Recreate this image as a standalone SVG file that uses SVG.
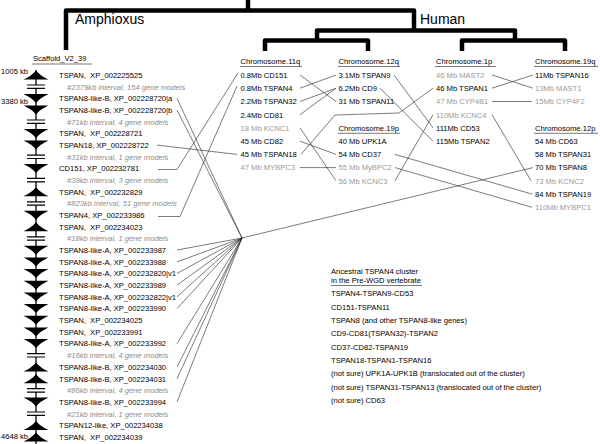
<svg xmlns="http://www.w3.org/2000/svg" width="600" height="444" viewBox="0 0 600 444">
<style>
text{font-family:"Liberation Sans",Arial,sans-serif;font-size:7.6px;fill:#000;white-space:pre}
.big{font-size:14px}
.iv{fill:#8c8c8c;font-style:italic}
.g{fill:#9a9a9a}
.tree{fill:none;stroke:#000;stroke-width:4.5;stroke-linejoin:round}
.ul{stroke:#555;stroke-width:0.8}
.cn{fill:none;stroke:#222;stroke-width:0.6}
.chr{stroke:#000;stroke-width:1.3}
</style>
<defs>
<path id="dn" d="M-12.5,-4.5 L12.5,-4.5 Q4.5,-1 0,4.5 Q-4.5,-1 -12.5,-4.5 Z" fill="#000"/>
<path id="up" d="M-12.5,4.5 L12.5,4.5 Q4.5,1 0,-4.5 Q-4.5,1 -12.5,4.5 Z" fill="#000"/>
<g id="brk"><rect x="-9" y="-1.7" width="18" height="3.4" fill="#fff"/><path d="M-9,-1.7 H9 M-9,1.7 H9" stroke="#000" stroke-width="1.2"/></g>
</defs>
<rect width="600" height="444" fill="#fff"/>

<g id="tree">
<path class="tree" d="M248,0 V10.5"/>
<path class="tree" d="M66,50 V10.5 H414 V30.5"/>
<path class="tree" d="M317,40.5 V30.5 H515 V40.5"/>
<path class="tree" d="M265,51 V40.5 H368 V51"/>
<path class="tree" d="M462,51 V40.5 H565 V51"/>
<text class="big" x="75" y="24">Amphioxus</text>
<text class="big" x="420" y="24">Human</text>
</g>

<g id="scaffold">
<text x="33" y="61">Scaffold_V2_39</text>
<line class="ul" x1="32" y1="64" x2="92" y2="64"/>
<line class="chr" x1="36" y1="70" x2="36" y2="444"/>
<text x="1" y="74">1005 kb</text>
<text x="1" y="104">3380 kb</text>
<text x="1" y="439">4648 kb</text>
<g transform="translate(36,0)">
<use href="#up" y="75"/>
<use href="#brk" y="86.7"/>
<use href="#dn" y="98.4"/>
<use href="#dn" y="110"/>
<use href="#brk" y="121.7"/>
<use href="#dn" y="133.4"/>
<use href="#dn" y="145.1"/>
<use href="#brk" y="156.8"/>
<use href="#dn" y="168.4"/>
<use href="#brk" y="180.1"/>
<use href="#up" y="191.8"/>
<use href="#brk" y="203.5"/>
<use href="#dn" y="215.2"/>
<use href="#up" y="226.8"/>
<use href="#brk" y="238.5"/>
<use href="#dn" y="250.2"/>
<use href="#dn" y="261.9"/>
<use href="#dn" y="273.6"/>
<use href="#dn" y="285.2"/>
<use href="#dn" y="296.9"/>
<use href="#dn" y="308.6"/>
<use href="#dn" y="320.3"/>
<use href="#dn" y="332"/>
<use href="#dn" y="343.6"/>
<use href="#brk" y="355.3"/>
<use href="#up" y="367"/>
<use href="#up" y="378.7"/>
<use href="#brk" y="390.4"/>
<use href="#dn" y="402"/>
<use href="#brk" y="413.7"/>
<use href="#up" y="425.4"/>
<use href="#up" y="437.1"/>
</g>
</g>

<g id="amphioxus-genes">
<text x="59" y="77.8">TSPAN,  XP_002225525</text>
<text class="iv" x="67" y="89.5">#2379kb interval, 154 gene models</text>
<text x="59" y="101.2">TSPAN8-like-B, XP_002228720|a</text>
<text x="59" y="112.8">TSPAN8-like-B, XP_002228720|b</text>
<text class="iv" x="67" y="124.5">#71kb interval, 4 gene models</text>
<text x="59" y="136.2">TSPAN,  XP_002228721</text>
<text x="59" y="147.9">TSPAN18, XP_002228722</text>
<text class="iv" x="67" y="159.6">#31kb interval, 1 gene models</text>
<text x="59" y="171.2">CD151, XP_002232781</text>
<text class="iv" x="67" y="182.9">#39kb interval, 3 gene models</text>
<text x="59" y="194.6">TSPAN,  XP_002232829</text>
<text class="iv" x="67" y="206.3">#823kb interval, 51 gene models</text>
<text x="59" y="218">TSPAN4, XP_002233986</text>
<text x="59" y="229.6">TSPAN,  XP_002234023</text>
<text class="iv" x="67" y="241.3">#18kb interval, 1 gene models</text>
<text x="59" y="253">TSPAN8-like-A, XP_002233987</text>
<text x="59" y="264.7">TSPAN8-like-A, XP_002233988</text>
<text x="59" y="276.4">TSPAN8-like-A, XP_002232820|v1</text>
<text x="59" y="288">TSPAN8-like-A, XP_002233989</text>
<text x="59" y="299.7">TSPAN8-like-A, XP_002232822|v1</text>
<text x="59" y="311.4">TSPAN8-like-A, XP_002233990</text>
<text x="59" y="323.1">TSPAN,  XP_002234025</text>
<text x="59" y="334.8">TSPAN,  XP_002233991</text>
<text x="59" y="346.4">TSPAN8-like-A, XP_002233992</text>
<text class="iv" x="67" y="358.1">#16kb interval, 4 gene models</text>
<text x="59" y="369.8">TSPAN8-like-B, XP_002234030</text>
<text x="59" y="381.5">TSPAN8-like-B, XP_002234031</text>
<text class="iv" x="67" y="393.2">#86kb interval, 4 gene models</text>
<text x="59" y="404.8">TSPAN8-like-B, XP_002233994</text>
<text class="iv" x="67" y="416.5">#21kb interval, 1 gene models</text>
<text x="59" y="428.2">TSPAN12-like, XP_002234038</text>
<text x="59" y="439.9">TSPAN,  XP_002234039</text>
</g>

<g id="chr11q">
<text x="240.5" y="63.8">Chromosome.11q</text>
<line class="ul" x1="240" y1="66.5" x2="302" y2="66.5"/>
<text x="240.5" y="77.8">0.8Mb CD151</text>
<text x="240.5" y="91">0.8Mb TSPAN4</text>
<text x="240.5" y="104.3">2.2Mb TSPAN32</text>
<text x="240.5" y="117.5">2.4Mb CD81</text>
<text class="g" x="240.5" y="130.7">18 Mb KCNC1</text>
<text x="240.5" y="144">45 Mb CD82</text>
<text x="240.5" y="157.2">45 Mb TSPAN18</text>
<text class="g" x="240.5" y="170.4">47 Mb MYBPC3</text>
</g>

<g id="chr12q">
<text x="338.5" y="63.8">Chromosome.12q</text>
<line class="ul" x1="338" y1="66.5" x2="400" y2="66.5"/>
<text x="338.5" y="77.8">3.1Mb TSPAN9</text>
<text x="338.5" y="91">6.2Mb CD9</text>
<text x="338.5" y="104.3">31 Mb TSPAN11</text>
</g>

<g id="chr19p">
<text x="338.5" y="130.7">Chromosome.19p</text>
<line class="ul" x1="338" y1="133.3" x2="400" y2="133.3"/>
<text x="338.5" y="144">40 Mb UPK1A</text>
<text x="338.5" y="157.2">54 Mb CD37</text>
<text class="g" x="338.5" y="170.4">55 Mb MyBPC2</text>
<text class="g" x="338.5" y="183.6">56 Mb KCNC3</text>
</g>

<g id="chr1p">
<text x="436" y="63.8">Chromosome.1p</text>
<line class="ul" x1="435" y1="66.5" x2="496" y2="66.5"/>
<text class="g" x="436" y="77.8">46 Mb MAST2</text>
<text x="436" y="91">46 Mb TSPAN1</text>
<text class="g" x="436" y="104.3">47 Mb CYP4B1</text>
<text class="g" x="436" y="117.5">110Mb KCNC4</text>
<text x="436" y="130.7">111Mb CD53</text>
<text x="436" y="144">115Mb TSPAN2</text>
</g>

<g id="chr19q">
<text x="535" y="63.8">Chromosome.19q</text>
<line class="ul" x1="534" y1="66.5" x2="598" y2="66.5"/>
<text x="535" y="77.8">11Mb TSPAN16</text>
<text class="g" x="535" y="91">13Mb MAST1</text>
<text class="g" x="535" y="104.3">15Mb CYP4F2</text>
</g>

<g id="chr12p">
<text x="535" y="130.7">Chromosome.12p</text>
<line class="ul" x1="534" y1="133.3" x2="598" y2="133.3"/>
<text x="535" y="144">54 Mb CD63</text>
<text x="535" y="157.2">58 Mb TSPAN31</text>
<text x="535" y="170.4">70 Mb TSPAN8</text>
<text class="g" x="535" y="183.6">73 Mb KCNC2</text>
<text x="535" y="196.9">84 Mb TSPAN19</text>
<text class="g" x="535" y="210.1">110Mb MYBPC1</text>
</g>

<g id="legend">
<text x="331" y="273.5">Ancestral TSPAN4 cluster</text>
<text x="331" y="282.8">in the Pre-WGD vertebrate</text>
<line class="ul" x1="331" y1="285.5" x2="422" y2="285.5"/>
<text x="331" y="296.1">TSPAN4-TSPAN9-CD53</text>
<text x="331" y="309.5">CD151-TSPAN11</text>
<text x="331" y="322.8">TSPAN8 (and other TSPAN8-like genes)</text>
<text x="331" y="336.1">CD9-CD81(TSPAN32)-TSPAN2</text>
<text x="331" y="349.5">CD37-CD82-TSPAN19</text>
<text x="331" y="362.8">TSPAN18-TSPAN1-TSPAN16</text>
<text x="331" y="376.1">(not sure) UPK1A-UPK1B (translocated out of the cluster)</text>
<text x="331" y="389.5">(not sure) TSPAN31-TSPAN13 (translocated out of the cluster)</text>
<text x="331" y="402.8">(not sure) CD63</text>
</g>

<g id="connectors" class="cn">
<path d="M177,98.4 L242,238"/>
<path d="M177,110 L242,238"/>
<path d="M177,250 L242,238"/>
<path d="M177,261.9 L242,238"/>
<path d="M177,273.4 L242,238"/>
<path d="M177,285.2 L242,238"/>
<path d="M177,296.8 L242,238"/>
<path d="M177,308.6 L242,238"/>
<path d="M177,343.6 L242,238"/>
<path d="M177,367 L242,238"/>
<path d="M177,378.7 L242,238"/>
<path d="M177,402 L242,238"/>
<path d="M242,238 L533,167.6"/>
<path d="M157,145.1 L237,154.4"/>
<path d="M158,169.5 H177 L238,73"/>
<path d="M158,216.5 H180 L237,86"/>
<path d="M300,75 L336,101.5"/>
<path d="M300,88.2 L336,75"/>
<path d="M300,101.5 L336,88.2"/>
<path d="M300,114.7 L336,88.2"/>
<path d="M300,127.9 L336,180.8"/>
<path d="M300,141.2 L336,154.4"/>
<path d="M301,154.4 L335,115 L399,113 L433,88.2"/>
<path d="M300,167.6 H336"/>
<path d="M394,75 L433,127.9"/>
<path d="M380,88.2 L433,141.2"/>
<path d="M395,154.4 L532,194.1"/>
<path d="M395,167.6 L532,207.3"/>
<path d="M395,180.8 L433,114.7"/>
<path d="M492,75 L533,88.2"/>
<path d="M492,88.2 L533,75"/>
<path d="M492,101.5 H532"/>
<path d="M492,114.7 L531,180.8"/>
</g>
</svg>
